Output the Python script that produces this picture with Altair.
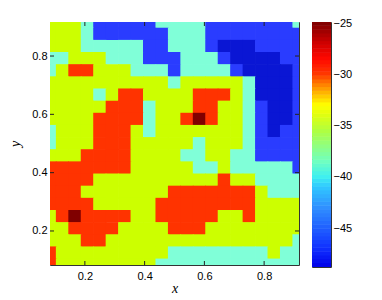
import altair as alt
import pandas as pd

# ---- data: field value read at grid points (rows from top y=11/12 to bottom y=1/12) ----
D, B, C, Y, R, K = -47.0, -42.5, -37.5, -32.5, -27.5, -25.0
z_rows = [
    [Y,Y,Y,C,B,B,B,B,B,C,C,C,C,B,B,B,B,B,B,B,C],
    [Y,Y,Y,C,B,B,B,B,B,B,C,C,C,B,B,B,B,B,B,B,B],
    [Y,Y,Y,C,C,C,C,C,B,B,C,C,C,B,D,D,D,B,B,B,B],
    [C,C,Y,Y,Y,C,C,C,B,B,B,C,C,C,B,D,D,D,D,B,B],
    [C,Y,R,R,Y,Y,Y,C,C,C,B,C,C,C,C,B,D,D,D,D,B],
    [Y,Y,Y,Y,Y,Y,Y,Y,Y,Y,C,Y,Y,Y,Y,Y,C,D,D,D,B],
    [Y,Y,Y,Y,C,Y,R,R,Y,Y,Y,Y,R,R,R,Y,C,D,D,D,B],
    [Y,Y,Y,Y,Y,R,R,R,C,Y,Y,Y,R,R,Y,Y,C,B,D,D,B],
    [Y,Y,Y,Y,R,R,R,R,C,Y,Y,R,K,R,Y,Y,C,B,D,D,B],
    [C,Y,Y,Y,R,R,R,Y,C,Y,Y,Y,Y,Y,Y,Y,C,B,D,B,B],
    [C,Y,Y,Y,R,R,R,Y,Y,Y,Y,Y,C,Y,Y,Y,C,B,B,B,B],
    [Y,Y,Y,R,R,R,R,Y,Y,Y,Y,C,C,Y,Y,C,C,B,B,B,B],
    [R,R,R,R,R,R,R,Y,Y,Y,Y,Y,C,C,Y,C,C,C,C,C,B],
    [R,R,R,R,Y,Y,Y,Y,Y,Y,Y,Y,Y,Y,R,Y,Y,C,C,C,C],
    [R,R,R,Y,Y,Y,Y,Y,Y,Y,R,R,R,R,R,R,R,Y,C,C,C],
    [R,R,R,R,Y,Y,Y,Y,Y,R,R,R,R,R,R,R,R,Y,Y,Y,Y],
    [Y,R,K,R,R,R,R,Y,Y,R,R,R,R,R,Y,Y,R,Y,Y,Y,Y],
    [Y,Y,R,R,R,R,Y,Y,Y,Y,R,R,R,Y,Y,Y,Y,Y,Y,Y,Y],
    [Y,Y,Y,R,R,Y,Y,Y,Y,Y,Y,Y,Y,Y,Y,Y,Y,Y,Y,Y,C],
    [R,Y,Y,Y,Y,Y,Y,Y,Y,Y,C,C,C,C,C,C,C,C,Y,C,C],
    [R,Y,Y,Y,Y,Y,Y,Y,Y,C,C,C,C,C,C,C,C,C,C,C,C],
]
x_grid = [1/12 + i/24 for i in range(21)]
y_grid = [11/12 - j/24 for j in range(21)]
levels = [-45, -40, -35, -30, -25]
band_colors = ["#0a16d4", "#2a3cff", "#80ffd8", "#ccff00", "#ff3300", "#800000"]
axis_ticks = [0.2, 0.4, 0.6, 0.8]
cbar_ticks = [-45, -40, -35, -30, -25]
c_min, c_max = -48.8, -24.9

# colorbar colour stops (jet-like, as seen in the picture)
cb_stop_vals = [-48.8, -47, -45, -43, -41, -40, -38.5, -37, -35.5, -34, -33, -32, -31, -30, -28.5, -27, -25]
cb_stop_cols = ["#0000e8", "#1030ff", "#2060ff", "#3090ff", "#30c8ff", "#40f0f0", "#70ffc0", "#90ff80",
                "#b0ff40", "#e0ff10", "#ffff00", "#ffc000", "#ff8000", "#ff3800", "#ff0800", "#d00000", "#800000"]

step = 1/24
ov = 0.0012  # tiny overlap so neighbouring cells leave no seams
rows = []
for j, row in enumerate(z_rows):
    for i, v in enumerate(row):
        rows.append({"x0": x_grid[i] - step/2 - ov, "x1": x_grid[i] + step/2 + ov,
                     "y0": y_grid[j] - step/2 - ov, "y1": y_grid[j] + step/2 + ov, "z": v})
df = pd.DataFrame(rows)

W, H = 249, 243
xs = alt.Scale(domain=[1/12, 11/12], nice=False, zero=False)
ys = alt.Scale(domain=[1/12, 11/12], nice=False, zero=False)
cscale = alt.Scale(type="threshold", domain=levels, range=band_colors)

lab = dict(labelFont="Liberation Sans", labelFontSize=11, labelColor="black",
           titleFont="Liberation Serif", titleFontStyle="italic", titleFontWeight="normal",
           titleFontSize=14, titleColor="black", ticks=False, domain=False, grid=False)

heat = alt.Chart(df).mark_rect(clip=True, strokeWidth=0).encode(
    x=alt.X("x0:Q", scale=xs, axis=alt.Axis(values=axis_ticks, format=".1f", title="x",
                                            labelPadding=5, titlePadding=0, **lab)),
    x2="x1:Q",
    y=alt.Y("y0:Q", scale=ys, axis=alt.Axis(values=axis_ticks, format=".1f", title="y",
                                            labelPadding=3, titlePadding=9, **lab)),
    y2="y1:Q",
    color=alt.Color("z:Q", scale=cscale, legend=None),
)

tdf = pd.DataFrame({"t": axis_ticks})
tick_col = "#222222"
tb = alt.Chart(tdf).mark_rule(color=tick_col).encode(x=alt.X("t:Q", scale=xs), y=alt.value(H), y2=alt.value(H - 4))
tt = alt.Chart(tdf).mark_rule(color=tick_col).encode(x=alt.X("t:Q", scale=xs), y=alt.value(0), y2=alt.value(4))
tl = alt.Chart(tdf).mark_rule(color=tick_col).encode(y=alt.Y("t:Q", scale=ys), x=alt.value(0), x2=alt.value(4))
tr = alt.Chart(tdf).mark_rule(color=tick_col).encode(y=alt.Y("t:Q", scale=ys), x=alt.value(W), x2=alt.value(W - 4))

main = alt.layer(heat, tb, tt, tl, tr).properties(width=W, height=H)

# colorbar: 64 steps
def hex2rgb(h):
    return [int(h[k:k+2], 16) for k in (1, 3, 5)]

def cmap(v):
    for k in range(len(cb_stop_vals) - 1):
        a, b = cb_stop_vals[k], cb_stop_vals[k+1]
        if v <= b or k == len(cb_stop_vals) - 2:
            f = min(max((v - a) / (b - a), 0), 1)
            ca, cb_ = hex2rgb(cb_stop_cols[k]), hex2rgb(cb_stop_cols[k+1])
            return "#%02x%02x%02x" % tuple(round(ca[m] + (cb_[m] - ca[m]) * f) for m in range(3))

n = 64
dv = (c_max - c_min) / n
cbrows = []
for k in range(n):
    lo = c_min + k * dv
    cbrows.append({"lo": lo, "hi": lo + dv + 0.05, "hex": cmap(lo + dv / 2)})
cbdf = pd.DataFrame(cbrows)

cbar = alt.Chart(cbdf).mark_rect(strokeWidth=0, clip=True).encode(
    x=alt.value(0), x2=alt.value(19),
    y=alt.Y("lo:Q", scale=alt.Scale(domain=[c_min, c_max], nice=False, zero=False),
            axis=alt.Axis(orient="right", values=cbar_ticks, title=None, labelPadding=2,
                          labelFont="Liberation Sans", labelFontSize=11, labelColor="black",
                          ticks=False, domain=False, grid=False)),
    y2="hi:Q",
    color=alt.Color("hex:N", scale=None),
).properties(width=19, height=245)

chart = alt.hconcat(main, cbar, spacing=11).resolve_scale(
    color="independent", y="independent", x="independent"
).properties(
    padding={"left": 0, "top": 8, "right": 5, "bottom": 5}
).configure_view(stroke="#333333", strokeWidth=1)

chart.save("out.html", embed_options={"renderer": "svg", "actions": False})
